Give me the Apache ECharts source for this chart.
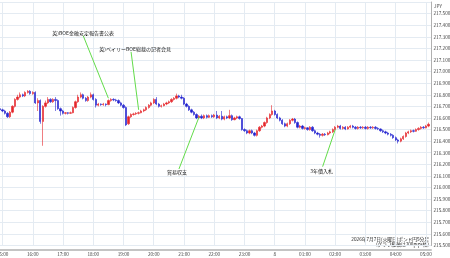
<!DOCTYPE html>
<html><head><meta charset="utf-8">
<script src="https://cdn.jsdelivr.net/npm/echarts@6/dist/echarts.min.js"></script>
<style>html,body{margin:0;padding:0;background:#fff}#c{width:450px;height:258px}</style>
</head><body><div id="c"></div>
<script>
// 5-minute categories from 14:55 to 05:10
const startMinutes = 14 * 60 + 55;
const categories = [];
for (let k = 0; k < 172; k++) {
  const m = (startMinutes + 5 * k) % 1440;
  categories.push(String(Math.floor(m / 60)).padStart(2, '0') + ':' + String(m % 60).padStart(2, '0'));
}
// [open, close, low, high]
const candles = [
[216.68,216.67,216.66,216.70],[216.67,216.66,216.65,216.68],[216.66,216.64,216.63,216.67],[216.64,216.61,216.60,216.65],
[216.61,216.65,216.60,216.66],[216.65,216.70,216.64,216.71],[216.70,216.76,216.69,216.77],[216.76,216.78,216.75,216.80],
[216.78,216.80,216.77,216.82],[216.80,216.79,216.78,216.81],[216.79,216.82,216.78,216.83],[216.82,216.83,216.81,216.84],
[216.83,216.81,216.80,216.84],[216.81,216.82,216.80,216.83],[216.82,216.73,216.72,216.83],[216.73,216.75,216.66,216.77],
[216.75,216.57,216.55,216.76],[216.57,216.70,216.36,216.71],[216.70,216.73,216.69,216.75],[216.73,216.76,216.72,216.78],
[216.76,216.74,216.73,216.77],[216.74,216.76,216.73,216.77],[216.76,216.75,216.66,216.78],[216.75,216.68,216.67,216.76],
[216.68,216.66,216.62,216.69],[216.66,216.64,216.63,216.67],[216.64,216.645,216.63,216.65],[216.645,216.64,216.63,216.65],
[216.64,216.645,216.635,216.655],[216.645,216.69,216.64,216.70],[216.69,216.74,216.68,216.75],[216.74,216.78,216.73,216.80],
[216.78,216.80,216.77,216.82],[216.80,216.77,216.76,216.81],[216.77,216.75,216.74,216.78],[216.75,216.78,216.74,216.79],
[216.78,216.80,216.77,216.82],[216.80,216.76,216.75,216.81],[216.76,216.71,216.69,216.77],[216.71,216.72,216.70,216.73],
[216.72,216.715,216.705,216.725],[216.715,216.72,216.705,216.73],[216.72,216.715,216.70,216.725],[216.715,216.75,216.71,216.76],
[216.75,216.76,216.74,216.77],[216.76,216.755,216.745,216.77],[216.755,216.75,216.74,216.765],[216.75,216.73,216.72,216.76],
[216.73,216.71,216.70,216.74],[216.71,216.69,216.68,216.72],[216.69,216.54,216.53,216.70],[216.55,216.61,216.54,216.62],
[216.61,216.63,216.60,216.64],[216.63,216.635,216.62,216.645],[216.635,216.64,216.625,216.65],[216.64,216.645,216.63,216.655],
[216.645,216.66,216.64,216.67],[216.66,216.67,216.65,216.68],[216.67,216.69,216.66,216.70],[216.69,216.71,216.68,216.72],
[216.71,216.73,216.70,216.74],[216.73,216.76,216.72,216.77],[216.76,216.72,216.71,216.78],[216.72,216.70,216.69,216.73],
[216.70,216.705,216.69,216.715],[216.705,216.72,216.70,216.73],[216.72,216.73,216.71,216.74],[216.73,216.74,216.72,216.75],
[216.74,216.76,216.73,216.77],[216.76,216.77,216.75,216.78],[216.77,216.79,216.76,216.81],[216.79,216.78,216.77,216.80],
[216.78,216.77,216.76,216.80],[216.77,216.72,216.71,216.78],[216.72,216.70,216.69,216.73],[216.70,216.67,216.66,216.71],
[216.67,216.65,216.64,216.68],[216.65,216.63,216.62,216.66],[216.63,216.60,216.59,216.64],[216.60,216.615,216.59,216.625],
[216.615,216.60,216.59,216.63],[216.60,216.62,216.59,216.63],[216.62,216.605,216.595,216.63],[216.605,216.62,216.60,216.63],
[216.62,216.61,216.60,216.63],[216.61,216.625,216.60,216.635],[216.625,216.60,216.59,216.66],[216.60,216.615,216.59,216.625],
[216.615,216.59,216.58,216.66],[216.59,216.61,216.58,216.62],[216.61,216.60,216.59,216.62],[216.60,216.62,216.59,216.67],
[216.62,216.585,216.575,216.63],[216.585,216.60,216.58,216.61],[216.60,216.61,216.59,216.62],[216.61,216.595,216.585,216.62],
[216.595,216.50,216.49,216.60],[216.50,216.49,216.48,216.51],[216.49,216.47,216.46,216.50],[216.47,216.49,216.46,216.50],
[216.49,216.47,216.46,216.50],[216.47,216.45,216.44,216.48],[216.45,216.49,216.44,216.50],[216.49,216.52,216.48,216.53],
[216.52,216.53,216.51,216.54],[216.53,216.56,216.52,216.57],[216.56,216.60,216.55,216.61],[216.60,216.63,216.59,216.64],
[216.63,216.66,216.62,216.71],[216.66,216.63,216.62,216.67],[216.63,216.60,216.59,216.64],[216.60,216.58,216.57,216.61],
[216.58,216.55,216.54,216.59],[216.55,216.53,216.52,216.56],[216.53,216.55,216.52,216.56],[216.55,216.58,216.54,216.59],
[216.58,216.59,216.57,216.60],[216.59,216.56,216.55,216.60],[216.56,216.52,216.51,216.57],[216.52,216.53,216.51,216.54],
[216.53,216.51,216.50,216.54],[216.51,216.515,216.50,216.525],[216.515,216.50,216.49,216.52],[216.50,216.52,216.49,216.53],
[216.52,216.49,216.48,216.53],[216.49,216.47,216.46,216.50],[216.47,216.46,216.45,216.48],[216.46,216.45,216.43,216.47],
[216.45,216.46,216.44,216.47],[216.46,216.455,216.445,216.47],[216.455,216.47,216.45,216.48],[216.47,216.48,216.46,216.49],
[216.48,216.50,216.47,216.51],[216.50,216.52,216.49,216.53],[216.52,216.53,216.51,216.54],[216.53,216.51,216.50,216.54],
[216.51,216.52,216.50,216.53],[216.52,216.505,216.495,216.53],[216.505,216.52,216.50,216.53],[216.52,216.53,216.51,216.54],
[216.53,216.52,216.51,216.54],[216.52,216.51,216.50,216.53],[216.51,216.52,216.50,216.53],[216.52,216.515,216.505,216.53],
[216.515,216.52,216.505,216.53],[216.52,216.51,216.50,216.53],[216.51,216.52,216.50,216.53],[216.52,216.515,216.505,216.53],
[216.515,216.52,216.505,216.53],[216.52,216.51,216.50,216.53],[216.51,216.505,216.495,216.52],[216.505,216.49,216.48,216.51],
[216.49,216.48,216.47,216.50],[216.48,216.47,216.46,216.49],[216.47,216.46,216.45,216.48],[216.46,216.45,216.44,216.47],
[216.45,216.43,216.42,216.46],[216.43,216.41,216.40,216.44],[216.41,216.40,216.38,216.42],[216.40,216.42,216.39,216.43],
[216.42,216.44,216.41,216.45],[216.44,216.47,216.43,216.48],[216.47,216.48,216.46,216.49],[216.48,216.49,216.47,216.50],
[216.49,216.485,216.475,216.50],[216.485,216.50,216.48,216.51],[216.50,216.51,216.49,216.52],[216.51,216.52,216.50,216.53],
[216.52,216.515,216.505,216.53],[216.515,216.53,216.51,216.54],[216.53,216.545,216.52,216.56]
];
const yMin = 215.5, yMax = 217.6, yStep = 0.1;
// annotation text, line start [category index, price], line end [category index, price]
const annotations = [
  {text: '英)BOE金融安定報告書公表', from: [33, 217.31], to: [43, 216.77], pos: 'top', dist: 0.5, dx: 0},
  {text: '英)ベイリーBOE総裁の記者会見', from: [52, 217.17], to: [55, 216.67], pos: 'top', dist: 0, dx: 4},
  {text: '貿易収支', from: [71, 216.16], to: [79, 216.61], pos: 'bottom', dist: 1, dx: -2},
  {text: '3年債入札', from: [128, 216.18], to: [133, 216.50], pos: 'bottom', dist: 1.5, dx: -1}
];
const titleLines = ['2026年7月7日(火曜日)ポンド円5分足', '(グラフ縦軸は200pips幅)'];

const FONT = '"Noto Sans CJK JP", "Noto Sans", sans-serif';
const chart = echarts.init(document.getElementById('c'), null, {renderer: 'canvas'});
const isHour = (i, v) => v.endsWith(':00');
chart.setOption({
  animation: false,
  backgroundColor: '#fff',
  grid: {left: 0, right: 19, top: 2, bottom: 12.5, containLabel: false, outerBoundsMode: 'none'},
  xAxis: {
    type: 'category', data: categories, boundaryGap: false, offset: 4,
    axisLine: {lineStyle: {color: '#c4c4c4', width: 2}},
    axisTick: {show: false},
    axisLabel: {interval: isHour, formatter: v => v === '00:00' ? '8' : v, fontSize: 4.7, color: '#444', margin: 2.5, fontFamily: FONT, hideOverlap: false},
    splitLine: {show: true, interval: isHour, lineStyle: {color: '#e4ebf2', width: 1}}
  },
  yAxis: {
    type: 'value', position: 'right', min: yMin, max: yMax, interval: yStep, scale: true,
    axisLine: {show: true, lineStyle: {color: '#b0b0b0', width: 1}},
    axisTick: {show: false},
    axisLabel: {formatter: v => v > 217.55 ? '' : v.toFixed(3), fontSize: 4.7, color: '#444', margin: 2.5, fontFamily: FONT},
    splitLine: {show: true, lineStyle: {color: '#e4ebf2', width: 1}}
  },
  series: [{
    type: 'candlestick', data: candles, barWidth: 1.8,
    itemStyle: {color: '#e5262b', color0: '#2424d0', borderColor: '#e5262b', borderColor0: '#2424d0', borderWidth: 0.6},
    markLine: {
      silent: true, symbol: ['none', 'none'], label: {show: false},
      lineStyle: {color: '#63dc4a', width: 1, type: 'solid'},
      data: annotations.map(a => [{coord: [categories[a.from[0]], a.from[1]]}, {coord: [categories[a.to[0]], a.to[1]]}])
    },
    markPoint: {
      silent: true, symbol: 'circle', symbolSize: 0.01,
      data: annotations.map(a => ({
        coord: [categories[a.from[0]], a.from[1]],
        label: {show: true, position: a.pos, distance: a.dist, offset: [a.dx, 0], formatter: a.text,
                fontSize: 5, color: '#222', fontFamily: FONT}
      }))
    }
  }],
  graphic: [
    {type: 'text', left: 434, top: 3.5, style: {text: 'JPY', fontSize: 4.7, fill: '#444', fontFamily: FONT}},
    {type: 'text', right: 21, top: 237.2, style: {text: titleLines[0], fontSize: 4.7, fill: '#222', fontFamily: FONT}},
    {type: 'text', right: 21, top: 242, style: {text: titleLines[1], fontSize: 4.7, fill: '#222', fontFamily: FONT}}
  ]
});
</script></body></html>
